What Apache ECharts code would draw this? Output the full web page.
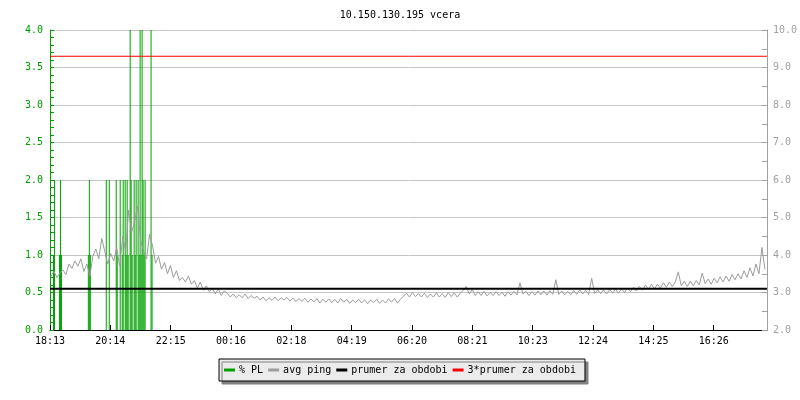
<!DOCTYPE html>
<html>
<head>
<meta charset="utf-8">
<script src="https://cdn.jsdelivr.net/npm/echarts@6/dist/echarts.min.js"></script>
<style>html,body{margin:0;padding:0;background:#fff}#c{width:800px;height:400px}</style>
</head>
<body>
<div id="c"></div>
<script>
// ---- data ----
var titleText = '10.150.130.195 vcera';
var xTickLabels = ['18:13','20:14','22:15','00:16','02:18','04:19','06:20','08:21','10:23','12:24','14:25','16:26'];
var xTickStep = 121.2;      // minutes between labels
var xSpan = 1440;           // minutes shown
// % packet loss samples: minutes from start, value in %
var plTimes  = [7,9,19,21,23,77,79,81,113,119,133,135,141,145,147,151,153,155,157,161,163,165,169,171,173,177,179,181,183,185,187,189,191,203,205];
var plValues = [1,2,1,2,1,1,2,1,2,2,2,1,2,1,2,2,1,2,1,4,2,1,2,1,2,2,1,4,1,4,2,1,2,4,1];
// avg ping (ms), one sample every 6 minutes starting at minute 2
var pingStart = 2, pingStep = 6;
var pingValues = [
3.44,3.56,3.40,3.52,
3.60,3.48,3.76,3.64,3.84,
3.70,3.90,3.56,3.76,3.44,
3.96,4.16,3.90,4.44,4.10,
3.76,4.04,3.84,4.20,3.70,
4.50,4.10,5.20,4.60,4.90,
5.30,4.40,4.10,3.90,4.56,
4.24,3.78,3.96,3.62,3.80,
3.50,3.72,3.40,3.58,3.32,
3.40,3.28,3.44,3.22,3.32,
3.12,3.28,3.06,3.18,3.02,
3.10,2.96,3.10,2.92,3.04,
2.98,2.88,2.96,2.86,2.94,
2.86,2.96,2.84,2.92,2.85,
2.90,2.80,2.88,2.78,2.86,
2.79,2.88,2.78,2.86,2.80,
2.87,2.77,2.85,2.76,2.84,
2.76,2.85,2.74,2.83,2.75,
2.84,2.72,2.82,2.74,2.83,
2.73,2.82,2.72,2.84,2.74,
2.82,2.71,2.80,2.73,2.82,
2.72,2.81,2.70,2.80,2.73,
2.82,2.71,2.80,2.72,2.83,
2.74,2.84,2.72,2.82,2.90,
2.98,2.88,3.00,2.89,2.97,
2.88,2.98,2.87,2.96,2.88,
2.99,2.88,2.97,2.87,3.00,
2.89,2.99,2.88,2.98,3.06,
3.16,2.96,3.08,2.92,3.02,
2.92,3.03,2.91,3.00,2.92,
3.02,2.92,3.01,2.90,3.02,
2.93,3.03,2.94,3.26,2.96,
3.03,2.92,3.02,2.93,3.04,
2.94,3.04,2.93,3.05,2.95,
3.34,2.95,3.04,2.94,3.03,
2.94,3.05,2.95,3.07,2.96,
3.06,2.95,3.38,2.97,3.07,
2.97,3.07,2.96,3.08,2.98,
3.09,2.98,3.10,3.00,3.12,
3.02,3.14,3.04,3.16,3.06,
3.20,3.08,3.22,3.10,3.22,
3.12,3.26,3.14,3.28,3.16,
3.28,3.55,3.18,3.30,3.16,
3.30,3.18,3.32,3.20,3.52,
3.24,3.36,3.22,3.38,3.26,
3.42,3.28,3.44,3.30,3.48,
3.34,3.50,3.36,3.58,3.40,
3.66,3.44,3.76,3.50,4.20,
3.62];
var prumer = 3.1;          // average for period (ms)
var prumer3 = 9.3;         // 3 * average
var seriesNames = ['% PL','avg ping','prumer za obdobi','3*prumer za obdobi'];

// ---- build ----
var plData = plTimes.map(function(t,i){return [t, plValues[i]];});
var pingData = pingValues.map(function(v,i){return [pingStart + i*pingStep, v];});
var mono = 'DejaVu Sans Mono';
var green = '#00a000', grayLine = '#9c9c9c';

var chart = echarts.init(document.getElementById('c'), null, {renderer:'canvas'});
chart.setOption({
  animation: false,
  backgroundColor: '#ffffff',
  title: {
    text: titleText, left: 'center', top: 5,
    textStyle: {fontFamily: mono, fontSize: 10, fontWeight: 'normal', color: '#000'}
  },
  legend: {
    data: seriesNames,
    left: 'center', top: 359,
    icon: 'rect', itemWidth: 11, itemHeight: 3, itemGap: 5,
    padding: [6, 9, 6, 5],
    backgroundColor: '#ebebeb', borderColor: '#000', borderWidth: 1, borderRadius: 0,
    shadowColor: '#808080', shadowBlur: 0, shadowOffsetX: 3, shadowOffsetY: 3,
    selectedMode: false,
    textStyle: {fontFamily: mono, fontSize: 10, color: '#000', padding: [0,0,0,-1]}
  },
  grid: {left: 50, right: 30, top: 30, bottom: 70, containLabel: false},
  xAxis: {
    type: 'value', min: 0, max: xSpan, interval: xTickStep,
    axisLine: {lineStyle: {color: '#000', width: 1}},
    axisTick: {inside: true, length: 5, lineStyle: {color: '#000'}},
    splitLine: {show: false},
    axisLabel: {
      fontFamily: mono, fontSize: 10, color: '#000', margin: 6, showMaxLabel: false,
      formatter: function(v){
        var k = Math.round(v / xTickStep);
        if (Math.abs(v - k*xTickStep) < 0.01 && k < xTickLabels.length) return xTickLabels[k];
        return '';
      }
    }
  },
  yAxis: [{
    type: 'value', min: 0, max: 4, interval: 0.5, position: 'left',
    axisLine: {show: true, lineStyle: {color: green}},
    axisTick: {show: true, inside: true, length: 4, lineStyle: {color: green}},
    minorTick: {show: true, splitNumber: 5, length: 4, lineStyle: {color: green}},
    splitLine: {show: true, lineStyle: {color: '#c4c4c4', width: 1}},
    axisLabel: {fontFamily: mono, fontSize: 10, color: green, margin: 7,
      formatter: function(v){return v.toFixed(1);}}
  },{
    type: 'value', min: 2, max: 10, interval: 1, position: 'right',
    axisLine: {show: true, lineStyle: {color: '#a0a0a0'}},
    axisTick: {show: true, inside: true, length: 5, lineStyle: {color: '#a0a0a0'}},
    minorTick: {show: true, splitNumber: 2, length: 5, lineStyle: {color: '#a0a0a0'}},
    splitLine: {show: false},
    axisLabel: {fontFamily: mono, fontSize: 10, color: '#a0a0a0', margin: 6,
      formatter: function(v){return v.toFixed(1);}}
  }],
  series: [{
    name: seriesNames[0], type: 'bar', yAxisIndex: 0, data: plData,
    barWidth: 1, itemStyle: {color: green}, z: 2, silent: true
  },{
    name: seriesNames[1], type: 'line', yAxisIndex: 1, data: pingData,
    showSymbol: false, symbol: 'none', lineStyle: {color: grayLine, width: 1},
    itemStyle: {color: grayLine}, z: 3, silent: true
  },{
    name: seriesNames[2], type: 'line', yAxisIndex: 1,
    data: [[0, prumer],[xSpan, prumer]],
    showSymbol: false, symbol: 'none', lineStyle: {color: '#000', width: 2},
    itemStyle: {color: '#000'}, z: 4, silent: true
  },{
    name: seriesNames[3], type: 'line', yAxisIndex: 1,
    data: [[0, prumer3],[xSpan, prumer3]],
    showSymbol: false, symbol: 'none', lineStyle: {color: '#ff0000', width: 1},
    itemStyle: {color: '#ff0000'}, z: 5, silent: true
  }]
});
</script>
</body>
</html>
